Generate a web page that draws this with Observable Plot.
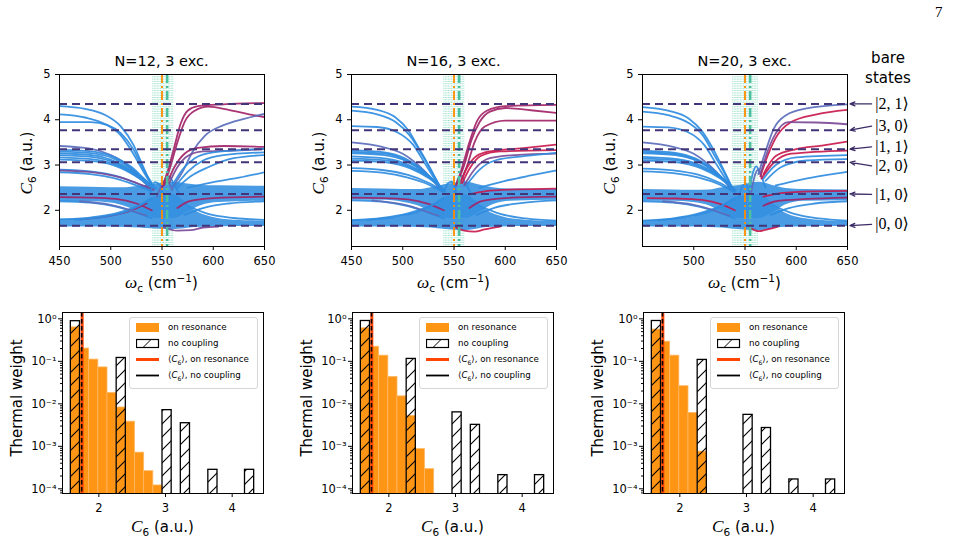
<!DOCTYPE html>
<html>
<head>
<meta charset="utf-8">
<script src="https://cdn.jsdelivr.net/npm/d3@7"></script>
<script src="https://cdn.jsdelivr.net/npm/@observablehq/plot@0.6"></script>
<style>
  body { margin: 0; background: #fff; }
  #fig { position: relative; width: 965px; height: 543px; overflow: hidden; background: #fff;
         font-family: "DejaVu Sans", sans-serif; color: #000; }
  .t { position: absolute; white-space: nowrap; transform: translate(-50%, -50%); line-height: 1; }
  .title { font-size: 14.5px; }
  .lab { font-size: 15px; }
  .rot { transform: translate(-50%, -50%) rotate(-90deg); }
  .mi { font-family: "Liberation Serif", "DejaVu Serif", serif; font-style: italic; font-size: 1.15em; }
  sub, sup { font-size: 0.7em; line-height: 0; }
  .leg { position: absolute; background: rgba(255,255,255,0.85); border: 1px solid #d6d6d6; border-radius: 3px;
         width: 127px; height: 70px; font-size: 8.7px; }
  .leg .row { position: absolute; left: 0; height: 12px; display: flex; align-items: center; }
  .leg svg { position: absolute; left: 6px; }
  .leg span { position: absolute; left: 38px; white-space: nowrap; }
  .page { position: absolute; left: 935px; top: 4px; font-family: "Liberation Serif", serif; font-size: 15px; }
</style>
</head>
<body>
<svg width="0" height="0" style="position:absolute">
  <defs>
    <pattern id="hatch" patternUnits="userSpaceOnUse" width="13" height="13">
      <path d="M0,13 L13,0 M-3,3 L3,-3 M10,16 L16,10" stroke="#000" stroke-width="1.1" fill="none"/>
    </pattern>
  </defs>
</svg>
<div id="fig"></div>
<script>
// ---------- upper row: C6 eigenvalues vs cavity frequency ----------
const LEVELS = [4.35, 3.77, 3.35, 3.06, 2.36, 1.66];          // bare-state C6 values
const KET_LABELS = ["|2, 1⟩", "|3, 0⟩", "|1, 1⟩", "|2, 0⟩", "|1, 0⟩", "|0, 0⟩"];
const KET_Y = [4.35, 3.86, 3.40, 2.98, 2.35, 1.69];
const OMEGA_RES = [550];
const OMEGA_MODE = [555];
const TOP_TITLES = ["N=12, 3 exc.", "N=16, 3 exc.", "N=20, 3 exc."];
const TOP_X_TICKS = [450, 500, 550, 600, 650];
const TOP_Y_TICKS = [2, 3, 4, 5];

const dottedN12 = [541, 542.5, 544, 545.5, 547, 548.5, 550, 551.5, 553, 554.5, 556, 557.5, 559, 560.5];
const dottedN16 = [540, 541.5, 543, 544.5, 546, 547.5, 549, 550.5, 552, 553.5, 555, 556.5, 558, 559.5];
const dottedN20 = [538, 539.5, 541, 542.5, 544, 545.5, 547, 548.5, 550, 551.5, 553, 554.5, 556, 557.5, 559, 560.5, 562];

// dense bundles of states: [omega, lower C6, upper C6]
const lowBandN12 = [[450,1.63,1.80],[480,1.63,1.82],[500,1.63,1.87],[515,1.62,1.96],[528,1.61,2.10],[540,1.59,2.28],[560,1.57,2.35],[572,1.59,2.20],[582,1.62,2.00],[598,1.63,1.85],[620,1.64,1.78],[650,1.64,1.76]];
const midBandN12 = [[450,2.19,2.52],[480,2.19,2.51],[500,2.16,2.50],[515,2.08,2.50],[528,1.96,2.53],[545,1.82,2.58],[562,1.82,2.62],[575,1.96,2.58],[588,2.10,2.55],[605,2.17,2.54],[650,2.20,2.53]];
const lowBandN16 = [[450,1.63,1.78],[480,1.63,1.81],[500,1.63,1.86],[515,1.62,1.96],[528,1.61,2.10],[540,1.58,2.28],[560,1.55,2.35],[572,1.58,2.20],[582,1.62,2.00],[598,1.63,1.85],[620,1.64,1.78],[650,1.64,1.75]];
const midBandN16 = [[450,2.22,2.48],[480,2.22,2.47],[500,2.18,2.46],[515,2.10,2.46],[528,1.96,2.50],[545,1.82,2.58],[562,1.82,2.62],[575,1.96,2.56],[588,2.12,2.50],[605,2.20,2.47],[650,2.22,2.46]];
const lowBandN20 = [[450,1.63,1.77],[480,1.63,1.80],[500,1.63,1.86],[515,1.62,1.96],[528,1.61,2.10],[540,1.58,2.28],[562,1.55,2.35],[575,1.58,2.20],[585,1.62,2.00],[600,1.63,1.85],[622,1.64,1.78],[650,1.64,1.75]];
const midBandN20 = [[450,2.20,2.46],[480,2.20,2.45],[500,2.17,2.44],[515,2.10,2.45],[528,1.96,2.50],[545,1.82,2.55],[564,1.82,2.62],[578,1.96,2.54],[590,2.12,2.48],[607,2.20,2.46],[650,2.21,2.45]];

// individual eigenstate branches; c = photonic/molecular character
const curvesN12 = [
  {c:"b", p:[[450,4.30],[475,4.24],[495,4.10],[510,3.85],[522,3.45],[531,3.00],[538,2.65],[543,2.50]]},
  {c:"b", p:[[450,4.12],[475,4.05],[495,3.90],[510,3.65],[522,3.25],[532,2.85],[540,2.55]]},
  {c:"b", p:[[450,3.95],[480,3.95],[497,3.88],[510,3.70],[522,3.35],[532,2.90],[540,2.60]]},
  {c:"v", p:[[450,3.42],[480,3.36],[500,3.22],[515,3.02],[528,2.72],[540,2.45]]},
  {c:"b", p:[[450,3.34],[485,3.29],[505,3.16],[520,2.96],[532,2.71],[542,2.50]]},
  {c:"b", p:[[450,3.30],[485,3.25],[505,3.12],[521,2.90],[534,2.66],[543,2.49]]},
  {c:"b", p:[[450,3.26],[485,3.21],[505,3.07],[522,2.85],[535,2.62],[545,2.48]]},
  {c:"b", p:[[450,3.22],[485,3.17],[507,3.02],[524,2.80],[537,2.58]]},
  {c:"b", p:[[450,3.17],[485,3.12],[508,2.98],[525,2.76],[538,2.55]]},
  {c:"b", p:[[450,3.12],[485,3.08],[510,2.93],[528,2.70],[540,2.50]]},
  {c:"b", p:[[450,2.90],[480,2.86],[505,2.76],[525,2.60],[540,2.45]]},
  {c:"b", p:[[450,2.84],[480,2.80],[505,2.70],[525,2.55],[540,2.42]]},
  {c:"p", p:[[450,2.88],[485,2.83],[510,2.72],[530,2.56],[542,2.45]]},
  {c:"m", p:[[450,2.29],[480,2.28],[505,2.25],[525,2.15],[540,2.00]]},
  {c:"m", p:[[470,1.80],[500,1.88],[520,2.00],[535,2.15]]},
  {c:"b", p:[[450,1.80],[480,1.84],[505,1.93],[525,2.08],[540,2.25]]},
  {c:"b", p:[[465,1.79],[495,1.86],[515,1.97],[532,2.15]]},
  {c:"b", p:[[450,2.20],[480,2.17],[505,2.08],[525,1.95],[540,1.82]]},
  {c:"v", p:[[470,2.20],[500,2.12],[520,2.00],[535,1.88]]},
  {c:"b", p:[[538,2.35],[543,2.62],[547,2.58],[551,2.35]]},
  {c:"b", p:[[548,2.30],[553,2.68],[557,2.75],[561,2.60],[566,2.40]]},
  {c:"v", p:[[545,2.30],[550,2.55],[555,2.62],[560,2.45]]},
  {c:"m", p:[[550,2.50],[556,2.90],[562,3.40],[568,3.90],[575,4.20],[585,4.30],[610,4.34],[650,4.37]]},
  {c:"m", p:[[552,2.55],[558,2.95],[565,3.50],[572,3.95],[582,4.20],[595,4.29],[615,4.22],[635,4.12],[650,4.06]]},
  {c:"v", p:[[560,2.50],[570,2.85],[580,3.30],[592,3.65],[610,3.88],[630,4.02],[650,4.13]]},
  {c:"m", p:[[555,2.60],[562,2.95],[572,3.25],[585,3.38],[610,3.42],[650,3.40]]},
  {c:"p", p:[[557,2.60],[565,2.95],[575,3.20],[590,3.30],[620,3.32],[650,3.35]]},
  {c:"b", p:[[560,2.55],[570,2.90],[582,3.15],[600,3.28],[650,3.36]]},
  {c:"b", p:[[562,2.50],[575,2.85],[590,3.10],[610,3.22],[650,3.28]]},
  {c:"b", p:[[565,2.50],[578,2.75],[595,2.95],[620,3.15],[650,3.22]]},
  {c:"b", p:[[575,2.50],[600,2.62],[625,2.72],[650,2.84]]},
  {c:"m", p:[[565,2.05],[577,2.20],[600,2.27],[650,2.30]]},
  {c:"b", p:[[575,2.10],[595,1.92],[620,1.83],[650,1.79]]},
  {c:"b", p:[[572,1.90],[590,2.05],[615,2.15],[650,2.20]]},
  {c:"p", p:[[552,1.62],[565,1.55],[578,1.56],[590,1.62],[605,1.64]]}
];
const curvesN16 = [
  {c:"b", p:[[450,4.29],[475,4.22],[493,4.05],[505,3.78],[517,3.32],[527,2.92],[534,2.62],[539,2.42]]},
  {c:"b", p:[[450,4.20],[475,4.12],[493,3.95],[507,3.65],[519,3.22],[529,2.82],[537,2.50]]},
  {c:"b", p:[[450,3.86],[475,3.84],[495,3.72],[510,3.45],[522,3.02],[532,2.66],[539,2.42]]},
  {c:"v", p:[[450,3.50],[480,3.40],[500,3.25],[515,3.00],[528,2.70],[538,2.42]]},
  {c:"b", p:[[450,3.33],[482,3.28],[502,3.15],[518,2.92],[530,2.66],[540,2.45]]},
  {c:"b", p:[[450,3.29],[482,3.25],[503,3.11],[519,2.88],[532,2.63],[540,2.44]]},
  {c:"b", p:[[450,3.26],[482,3.22],[504,3.08],[520,2.85],[533,2.60],[541,2.44]]},
  {c:"b", p:[[450,3.19],[484,3.14],[506,3.00],[523,2.78],[536,2.55]]},
  {c:"b", p:[[450,3.14],[484,3.10],[507,2.96],[525,2.74],[537,2.52]]},
  {c:"b", p:[[450,3.10],[484,3.06],[508,2.92],[526,2.70],[538,2.48]]},
  {c:"b", p:[[450,2.93],[480,2.89],[505,2.78],[524,2.62],[538,2.45]]},
  {c:"b", p:[[450,2.87],[480,2.83],[505,2.72],[525,2.57],[538,2.42]]},
  {c:"m", p:[[450,2.28],[480,2.27],[505,2.24],[525,2.14],[540,2.00]]},
  {c:"b", p:[[450,1.78],[480,1.83],[505,1.93],[525,2.08],[540,2.25]]},
  {c:"b", p:[[465,1.79],[495,1.86],[515,1.97],[532,2.15]]},
  {c:"b", p:[[450,2.22],[480,2.19],[505,2.09],[525,1.95],[540,1.82]]},
  {c:"v", p:[[470,2.22],[500,2.13],[520,2.00],[535,1.88]]},
  {c:"b", p:[[540,2.36],[544,2.60],[548,2.63],[552,2.40]]},
  {c:"b", p:[[550,2.35],[554,2.70],[557,2.76],[561,2.60],[566,2.40]]},
  {c:"m", p:[[552,2.55],[558,2.95],[565,3.50],[572,3.95],[582,4.20],[600,4.30],[650,4.33]]},
  {c:"m", p:[[553,2.60],[560,3.00],[567,3.55],[575,3.95],[585,4.18],[600,4.26],[625,4.21],[650,4.15]]},
  {c:"m", p:[[556,2.60],[563,3.00],[570,3.50],[580,3.85],[600,3.98],[650,3.98]]},
  {c:"r", p:[[556,2.60],[563,2.95],[572,3.20],[585,3.30],[620,3.38],[650,3.45]]},
  {c:"r", p:[[558,2.60],[566,2.95],[576,3.20],[595,3.30],[650,3.33]]},
  {c:"p", p:[[560,2.55],[570,2.90],[585,3.15],[610,3.22],[650,3.25]]},
  {c:"b", p:[[562,2.55],[575,2.90],[590,3.10],[620,3.20],[650,3.27]]},
  {c:"b", p:[[575,2.50],[600,2.65],[625,2.77],[650,2.88]]},
  {c:"r", p:[[565,2.35],[580,2.42],[610,2.46],[650,2.48]]},
  {c:"m", p:[[565,2.05],[577,2.20],[600,2.27],[650,2.30]]},
  {c:"b", p:[[575,2.10],[595,1.92],[620,1.82],[650,1.77]]},
  {c:"b", p:[[572,1.90],[590,2.06],[615,2.16],[650,2.22]]},
  {c:"r", p:[[552,1.62],[560,1.55],[570,1.53],[580,1.58],[595,1.64]]}
];
const curvesN20 = [
  {c:"b", p:[[450,4.28],[475,4.20],[495,4.03],[508,3.75],[519,3.35],[528,2.95],[535,2.62],[540,2.40]]},
  {c:"b", p:[[450,4.18],[475,4.10],[495,3.93],[509,3.65],[520,3.22],[530,2.82],[538,2.45]]},
  {c:"b", p:[[450,3.85],[475,3.83],[495,3.72],[510,3.45],[522,3.02],[532,2.66],[539,2.42]]},
  {c:"v", p:[[450,3.50],[480,3.40],[500,3.25],[515,3.00],[528,2.70],[538,2.42]]},
  {c:"b", p:[[450,3.32],[482,3.27],[502,3.14],[518,2.92],[530,2.66],[540,2.45]]},
  {c:"b", p:[[450,3.29],[482,3.24],[503,3.11],[519,2.88],[532,2.63],[540,2.44]]},
  {c:"b", p:[[450,3.26],[482,3.22],[504,3.08],[520,2.85],[533,2.60],[541,2.44]]},
  {c:"b", p:[[450,3.18],[484,3.13],[506,3.00],[523,2.78],[536,2.55]]},
  {c:"b", p:[[450,3.14],[484,3.10],[507,2.96],[525,2.74],[537,2.52]]},
  {c:"b", p:[[450,3.10],[484,3.06],[508,2.92],[526,2.70],[538,2.48]]},
  {c:"b", p:[[450,2.92],[480,2.88],[505,2.78],[524,2.62],[538,2.45]]},
  {c:"b", p:[[450,2.86],[480,2.82],[505,2.72],[525,2.57],[538,2.42]]},
  {c:"r", p:[[455,2.27],[485,2.26],[508,2.23],[527,2.13],[540,2.00]]},
  {c:"b", p:[[450,1.77],[480,1.82],[505,1.93],[525,2.08],[540,2.25]]},
  {c:"b", p:[[465,1.78],[495,1.86],[515,1.97],[532,2.15]]},
  {c:"b", p:[[450,2.20],[480,2.17],[505,2.08],[525,1.95],[540,1.82]]},
  {c:"v", p:[[470,2.20],[500,2.12],[520,2.00],[535,1.88]]},
  {c:"b", p:[[544,2.30],[548,2.55],[551,2.58],[554,2.40]]},
  {c:"b", p:[[554,2.40],[558,2.85],[561,2.97],[565,2.80],[570,2.50]]},
  {c:"v", p:[[556,2.40],[560,2.80],[563,2.90],[567,2.70]]},
  {c:"v", p:[[563,2.80],[570,3.30],[578,3.80],[590,4.10],[610,4.25],[650,4.34]]},
  {c:"r", p:[[565,2.75],[572,3.20],[580,3.60],[595,3.95],[620,4.12],[650,4.22]]},
  {c:"p", p:[[565,2.80],[572,3.30],[580,3.70],[592,3.95],[620,3.94],[650,3.90]]},
  {c:"r", p:[[568,2.80],[580,3.20],[600,3.35],[625,3.43],[650,3.52]]},
  {c:"r", p:[[566,2.70],[578,3.05],[595,3.25],[650,3.32]]},
  {c:"b", p:[[568,2.70],[580,3.00],[600,3.17],[650,3.22]]},
  {c:"b", p:[[570,2.65],[585,2.95],[610,3.10],[650,3.13]]},
  {c:"b", p:[[580,2.55],[605,2.68],[630,2.78],[650,2.85]]},
  {c:"r", p:[[568,2.30],[585,2.38],[620,2.42],[650,2.43]]},
  {c:"m", p:[[568,2.10],[580,2.20],[610,2.25],[650,2.28]]},
  {c:"b", p:[[578,2.10],[598,1.92],[622,1.82],[650,1.77]]},
  {c:"b", p:[[575,1.90],[593,2.05],[618,2.15],[650,2.20]]},
  {c:"r", p:[[556,1.60],[563,1.54],[572,1.58],[582,1.64]]}
];

// ---------- lower row: thermal weight histograms ----------
const binEdges = [1.58, 1.7175, 1.855, 1.9925, 2.13, 2.2675, 2.405, 2.5425, 2.68, 2.8175, 2.955,
                  3.0925, 3.23, 3.3675, 3.505, 3.6425, 3.78, 3.9175, 4.055, 4.1925, 4.33];
const resonantN12 = [0.63, 0.20, 0.11, 0.072, 0.018, 0.0082, 0.0038, 0.00071, 0.00026, 0.00012, 0, 0, 0, 0, 0, 0, 0, 0, 0, 0];
const bareN12     = [0.88, 0, 0, 0, 0, 0.12, 0, 0, 0, 0, 0.0071, 0, 0.0035, 0, 0, 0.00028, 0, 0, 0, 0.00028];
const resonantN16 = [0.60, 0.22, 0.136, 0.043, 0.015, 0.0052, 0.00086, 0.00029, 0, 0, 0, 0, 0, 0, 0, 0, 0, 0, 0, 0];
const bareN16     = [0.89, 0, 0, 0, 0, 0.114, 0, 0, 0, 0, 0.0063, 0, 0.0032, 0, 0, 0.00021, 0, 0, 0, 0.00021];
const resonantN20 = [0.56, 0.29, 0.136, 0.026, 0.0061, 0.00075, 0, 0, 0, 0, 0, 0, 0, 0, 0, 0, 0, 0, 0, 0];
const bareN20     = [0.89, 0, 0, 0, 0, 0.108, 0, 0, 0, 0, 0.0055, 0, 0.0027, 0, 0, 0.000166, 0, 0, 0, 0.000166];
const meanResonant = [1.750, 1.745, 1.745];
const meanBare     = [1.743, 1.740, 1.740];
const HIST_X_TICKS = [2, 3, 4];
const HIST_TICKS = [1, 0.1, 0.01, 0.001, 0.0001];
const HIST_TICK_LABELS = ["10⁰", "10⁻¹", "10⁻²", "10⁻³", "10⁻⁴"];
const LEGEND_LABELS = ["on resonance", "no coupling", "⟨<i>C</i><sub>6</sub>⟩, on resonance", "⟨<i>C</i><sub>6</sub>⟩, no coupling"];

// ---------- styling ----------
const LINE_COLORS = {b: "#2f8ce0", v: "#5a6cbc", p: "#7b4a97", m: "#a22468", r: "#c8194e"};
const BAND_BLUE = "#3590e0";
const LEVEL_COLOR = "#43357a";
const ORANGE = "#ff8c00";
const TEAL = "#4cc09e";
const TEAL_LIGHT = "#7fd8bd";
const FONT = "DejaVu Sans";
const plain = d => String(d);

const fig = document.getElementById("fig");
function place(node, left, top) {
  node.style.position = "absolute";
  node.style.left = left + "px";
  node.style.top = top + "px";
  fig.appendChild(node);
}
function addText(html, x, y, cls) {
  const d = document.createElement("div");
  d.className = "t " + cls;
  d.innerHTML = html;
  d.style.left = x + "px";
  d.style.top = y + "px";
  fig.appendChild(d);
}

function topPanel(curves, low, mid, dotted, xTicks, withKets) {
  const rows = curves.flatMap((cv, i) => cv.p.map(([x, y]) => ({x, y, id: i, color: LINE_COLORS[cv.c]})));
  const mL = 40, mT = 6, mB = 26, mR = withKets ? 120 : 6;
  const marks = [
    Plot.ruleX(dotted, {stroke: TEAL_LIGHT, strokeWidth: 0.8, strokeDasharray: "1,1.3"}),
    Plot.areaY(low, {x: d => d[0], y1: d => d[1], y2: d => d[2], curve: "monotone-x", fill: BAND_BLUE, fillOpacity: 0.9, clip: true}),
    Plot.areaY(mid, {x: d => d[0], y1: d => d[1], y2: d => d[2], curve: "monotone-x", fill: BAND_BLUE, fillOpacity: 0.9, clip: true}),
    Plot.line(rows, {x: "x", y: "y", z: "id", stroke: "color", strokeWidth: 1.8, strokeOpacity: 0.92, curve: "monotone-x", clip: true}),
    Plot.ruleX(OMEGA_MODE, {stroke: TEAL, strokeWidth: 2.6, strokeDasharray: "9,3,2,3"}),
    Plot.ruleX(OMEGA_RES, {stroke: ORANGE, strokeWidth: 1.8, strokeDasharray: "9,3,2,3"}),
    Plot.ruleY(LEVELS, {stroke: LEVEL_COLOR, strokeWidth: 2, strokeDasharray: "8,5"}),
    Plot.axisX({ticks: xTicks, tickSize: 4, tickPadding: 6, tickFormat: plain, label: null}),
    Plot.axisY({ticks: TOP_Y_TICKS, tickSize: 4, tickPadding: 5, tickFormat: plain, label: null}),
    Plot.frame({stroke: "#000", strokeWidth: 1})
  ];
  if (withKets) {
    marks.push(
      Plot.arrow(LEVELS, {x1: () => 673.5, y1: (d, i) => KET_Y[i], x2: () => 652.5, y2: d => d,
                          stroke: "#3b2c66", strokeWidth: 1.3, headLength: 6, headAngle: 45}),
      Plot.text(KET_LABELS, {x: () => 677, y: (d, i) => KET_Y[i], text: d => d, textAnchor: "start",
                             fontFamily: "Liberation Serif, DejaVu Serif, serif", fontSize: 16})
    );
  }
  return Plot.plot({
    width: 205 + mL + mR, height: 172 + mT + mB,
    marginLeft: mL, marginRight: mR, marginTop: mT, marginBottom: mB,
    x: {domain: [450, 650]},
    y: {domain: [1.2, 5]},
    color: {type: "identity"},
    style: {background: "none", fontFamily: FONT, fontSize: "11.5px", color: "#000", overflow: "visible"},
    marks
  });
}

function histPanel(resonant, bare, mRes, mBare) {
  const toRows = w => w.map((v, i) => ({x1: binEdges[i], x2: binEdges[i + 1], w: v})).filter(d => d.w > 0);
  const minor = [];
  for (let e = -5; e <= 0; e++) for (let m = 2; m <= 9; m++) minor.push(m * Math.pow(10, e));
  const mL = 44, mT = 4, mB = 26, mR = 6;
  return Plot.plot({
    width: 201 + mL + mR, height: 181 + mT + mB,
    marginLeft: mL, marginRight: mR, marginTop: mT, marginBottom: mB,
    x: {domain: [1.455, 4.47]},
    y: {type: "log", domain: [7.76e-5, 1.41]},
    style: {background: "none", fontFamily: FONT, fontSize: "11.5px", color: "#000"},
    marks: [
      Plot.rect(toRows(resonant), {x1: "x1", x2: "x2", y1: () => 1e-6, y2: "w", fill: ORANGE, fillOpacity: 0.92,
                                   stroke: "#ffb865", strokeWidth: 0.8, clip: true}),
      Plot.rect(toRows(bare), {x1: "x1", x2: "x2", y1: () => 1e-6, y2: "w", fill: "url(#hatch)",
                               stroke: "#000", strokeWidth: 1.3, clip: true}),
      Plot.ruleX([mRes], {stroke: "#ff4500", strokeWidth: 3}),
      Plot.ruleX([mBare], {stroke: "#000", strokeWidth: 1.6, strokeDasharray: "4.5,2.5"}),
      Plot.axisY({ticks: minor.filter(v => v > 7.76e-5 && v < 1.41), tickSize: 2, tickFormat: () => "", label: null}),
      Plot.axisY({ticks: HIST_TICKS, tickSize: 4, tickPadding: 2, label: null,
                  tickFormat: d => HIST_TICK_LABELS[HIST_TICKS.indexOf(d)]}),
      Plot.axisX({ticks: HIST_X_TICKS, tickSize: 4, tickPadding: 6, tickFormat: plain, label: null}),
      Plot.frame({stroke: "#000", strokeWidth: 1})
    ]
  });
}

function legend(frameRight) {
  const box = document.createElement("div");
  box.className = "leg";
  box.style.left = (frameRight - 134) + "px";
  box.style.top = "317px";
  const swatches = [
    `<rect x="0" y="1" width="23" height="9" fill="${ORANGE}" fill-opacity="0.92"/>`,
    `<rect x="0.5" y="1.5" width="22" height="8" fill="none" stroke="#000" stroke-width="1.2"/><path d="M7,9.5 L15,1.5" stroke="#000" stroke-width="1"/>`,
    `<line x1="0" y1="5.5" x2="23" y2="5.5" stroke="#ff4500" stroke-width="3"/>`,
    `<line x1="0" y1="5.5" x2="23" y2="5.5" stroke="#000" stroke-width="1.8"/>`
  ];
  const rowY = [4, 20, 36, 52];
  LEGEND_LABELS.forEach((lab, i) => {
    const r = document.createElement("div");
    r.className = "row";
    r.style.top = rowY[i] + "px";
    r.innerHTML = `<svg width="24" height="11" style="top:0">${swatches[i]}</svg><span style="top:0">${lab}</span>`;
    box.appendChild(r);
  });
  fig.appendChild(box);
}

// ---------- assemble ----------
const topLefts = [59, 351, 642];
const topCurves = [curvesN12, curvesN16, curvesN20];
const lowBands = [lowBandN12, lowBandN16, lowBandN20];
const midBands = [midBandN12, midBandN16, midBandN20];
const dottedSets = [dottedN12, dottedN16, dottedN20];
topLefts.forEach((L, k) => {
  const xt = k === 2 ? TOP_X_TICKS.slice(1) : TOP_X_TICKS;
  place(topPanel(topCurves[k], lowBands[k], midBands[k], dottedSets[k], xt, k === 2), L - 40, 68);
});

const botLefts = [62, 352, 643];
const resSets = [resonantN12, resonantN16, resonantN20];
const bareSets = [bareN12, bareN16, bareN20];
botLefts.forEach((L, k) => {
  place(histPanel(resSets[k], bareSets[k], meanResonant[k], meanBare[k]), L - 44, 308);
  legend(L + 201);
});

// titles and axis labels
topLefts.forEach((L, k) => {
  addText(TOP_TITLES[k], L + 102.5, 60.5, "title");
  addText(`<span class="mi">C</span><sub>6</sub> (a.u.)`, L - 32, 163, "lab rot");
  addText(`<span class="mi">ω</span><sub>c</sub> (cm<sup>−1</sup>)`, L + 102.5, 283, "lab");
});
botLefts.forEach((L, k) => {
  addText("Thermal weight", L - 45, 398, "lab rot");
  addText(`<span class="mi">C</span><sub>6</sub> (a.u.)`, L + 100.5, 527, "lab");
});
addText("bare", 888, 58, "lab");
addText("states", 888, 78, "lab");
const pg = document.createElement("div");
pg.className = "page";
pg.textContent = "7";
fig.appendChild(pg);
</script>
</body>
</html>
